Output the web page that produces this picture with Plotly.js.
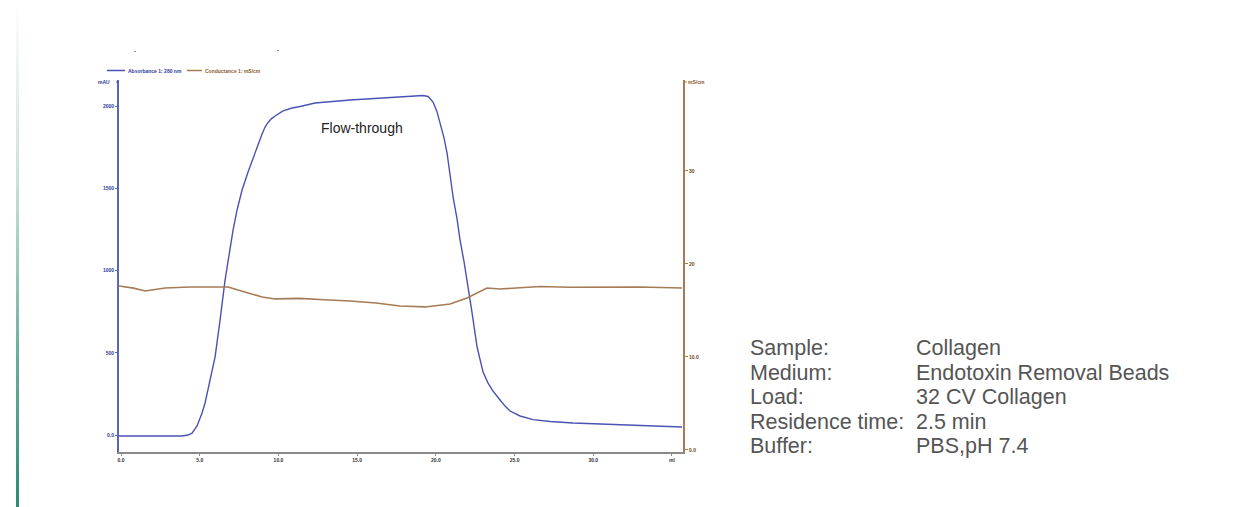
<!DOCTYPE html>
<html>
<head>
<meta charset="utf-8">
<script src="https://cdn.plot.ly/plotly-3.0.1.min.js"></script>
<style>
  html, body { margin:0; padding:0; background:#fff; }
  #chart { width:1254px; height:507px; position:relative; }
  #accent { position:absolute; left:16px; top:0; width:3px; height:507px;
    background: linear-gradient(to bottom, rgba(46,139,114,0) 0%, rgba(46,139,114,0.25) 35%, rgba(46,139,114,0.7) 70%, rgba(46,139,114,1) 100%); z-index:5; }
</style>
</head>
<body>
<div id="chart"><div id="accent"></div></div>
<script>
// UV absorbance (mAU) vs volume
const uvVolume = [-0.13, 1.0, 2.5, 3.875, 4.257, 4.511, 4.828, 5.146, 5.337, 5.527, 5.781, 5.972, 6.29, 6.607, 6.861, 7.116, 7.37, 7.687, 8.069, 8.513, 8.958, 9.15, 9.339, 9.55, 9.784, 10.292, 10.864, 11.372, 12.325, 14.549, 16.455, 17.725, 18.678, 19.187, 19.504, 19.822, 20.076, 20.267, 20.521, 20.712, 20.902, 21.093, 21.347, 21.537, 21.792, 21.982, 22.3, 22.618, 22.808, 22.999, 23.316, 23.634, 24.079, 24.396, 24.714, 25.349, 26.175, 27.255, 28.717, 31.893, 35.642];
const uvSignal = [-6, -5, -6, -6, 0, 12, 55, 134, 195, 274, 383, 474, 699, 942, 1094, 1246, 1368, 1489, 1599, 1720, 1830, 1872, 1900, 1922, 1939, 1970, 1988, 1997, 2018, 2036, 2046, 2055, 2061, 2064, 2058, 2024, 1964, 1897, 1805, 1714, 1581, 1447, 1313, 1185, 1052, 942, 742, 535, 450, 383, 316, 267, 213, 176, 146, 116, 94, 82, 73, 61, 49];

// Conductivity (mS/cm) vs volume
const condVolume = [-0.13, 0.8, 1.52, 2.8, 4.38, 5.97, 6.8, 8.07, 8.96, 9.78, 11.37, 12.9, 14.55, 16.2, 17.72, 19.31, 20.9, 21.98, 22.62, 23.0, 23.25, 24.08, 25.3, 26.62, 28.5, 30.43, 32.97, 35.64];
const condSignal = [17.63, 17.4, 17.10, 17.42, 17.53, 17.53, 17.53, 16.88, 16.45, 16.24, 16.3, 16.15, 16.02, 15.8, 15.48, 15.38, 15.70, 16.34, 16.88, 17.2, 17.42, 17.31, 17.45, 17.58, 17.5, 17.53, 17.53, 17.42];

const xTickVals = [0, 5, 10, 15, 20, 25, 30, 35];
const xTickText = ["0.0", "5.0", "10.0", "15.0", "20.0", "25.0", "30.0", "ml"];
const uvTickVals = [0, 500, 1000, 1500, 2000];
const uvTickText = ["0.0", "500", "1000", "1500", "2000"];
const condTickVals = [0, 10, 20, 30];
const condTickText = ["0.0", "10.0", "20", "30"];

const infoLabels = ["Sample:", "Medium:", "Load:", "Residence time:", "Buffer:"];
const infoValues = ["Collagen", "Endotoxin Removal Beads", "32 CV Collagen", "2.5 min", "PBS,pH 7.4"];

const blue = "#4a53b3";
const brown = "#a67b55";

const plotL = 119, plotR = 683, plotT = 80, plotB = 452;
const px2x = p => (p - plotL) / (plotR - plotL);
const py2y = p => (plotB - p) / (plotB - plotT);

const traces = [
  { x: uvVolume, y: uvSignal, type: "scatter", mode: "lines",
    line: { color: blue, width: 1.4 }, yaxis: "y", hoverinfo: "skip" },
  { x: condVolume, y: condSignal, type: "scatter", mode: "lines",
    line: { color: brown, width: 1.6 }, yaxis: "y2", hoverinfo: "skip" }
];

const annotations = [];
// line spacing = 1.3 * base size (18.85 -> 24.5px); glyphs drawn at 21.5px
const infoFont = { family: "Liberation Sans, Arial, sans-serif", size: 18.85, color: "#555" };
const wrapLines = arr => arr.map(t => '<span style="font-size:21.5px">' + t + '</span>').join('<br>');
annotations.push({ xref: "paper", yref: "paper", x: px2x(749), y: py2y(397), xanchor: "left", yanchor: "middle",
  align: "left", borderpad: 0, text: wrapLines(infoLabels), showarrow: false, font: infoFont });
annotations.push({ xref: "paper", yref: "paper", x: px2x(915), y: py2y(397), xanchor: "left", yanchor: "middle",
  align: "left", borderpad: 0, text: wrapLines(infoValues), showarrow: false, font: infoFont });

annotations.push({ xref: "paper", yref: "paper", x: px2x(362), y: py2y(128), xanchor: "center", yanchor: "middle",
  text: "Flow-through", showarrow: false, font: { family: "Liberation Sans, Arial, sans-serif", size: 14, color: "#222" } });
// legend texts
annotations.push({ xref: "paper", yref: "paper", x: px2x(126), y: py2y(71), xanchor: "left", yanchor: "middle",
  text: "Absorbance 1: 280 nm", showarrow: false, font: { family: "Liberation Sans, Arial", size: 5, color: "#2e3a9a", weight: "bold" } });
annotations.push({ xref: "paper", yref: "paper", x: px2x(203), y: py2y(71), xanchor: "left", yanchor: "middle",
  text: "Conductance 1: mS/cm", showarrow: false, font: { family: "Liberation Sans, Arial", size: 5, color: "#8a5a2e", weight: "bold" } });
// axis unit labels
annotations.push({ xref: "paper", yref: "paper", x: px2x(112), y: py2y(82), xanchor: "right", yanchor: "middle",
  text: "mAU", showarrow: false, font: { family: "Liberation Sans, Arial", size: 5, color: "#2e3a9a", weight: "bold" } });
annotations.push({ xref: "paper", yref: "paper", x: px2x(686), y: py2y(82), xanchor: "left", yanchor: "middle",
  text: "mS/cm", showarrow: false, font: { family: "Liberation Sans, Arial", size: 5, color: "#8a5a2e", weight: "bold" } });
// stray marks at top
annotations.push({ xref: "paper", yref: "paper", x: px2x(135), y: py2y(51), xanchor: "center", yanchor: "middle",
  text: "-", showarrow: false, font: { family: "Liberation Sans, Arial", size: 6, color: "#333", weight: "bold" } });
annotations.push({ xref: "paper", yref: "paper", x: px2x(278), y: py2y(50), xanchor: "center", yanchor: "middle",
  text: "-", showarrow: false, font: { family: "Liberation Sans, Arial", size: 6, color: "#333", weight: "bold" } });

const shapes = [
  { type: "line", xref: "paper", yref: "paper", x0: px2x(107), x1: px2x(125), y0: py2y(70.5), y1: py2y(70.5), line: { color: blue, width: 1.5 } },
  { type: "line", xref: "paper", yref: "paper", x0: px2x(187), x1: px2x(202), y0: py2y(70.5), y1: py2y(70.5), line: { color: brown, width: 1.5 } },
  { type: "line", xref: "paper", yref: "paper", x0: 1, x1: px2x(687), y0: py2y(82), y1: py2y(82), line: { color: brown, width: 1 } },
  { type: "line", xref: "paper", yref: "paper", x0: px2x(116), x1: 0, y0: py2y(82), y1: py2y(82), line: { color: blue, width: 1 } }
];

const layout = {
  width: 1254, height: 507,
  margin: { l: plotL, r: 1254 - plotR, t: plotT, b: 507 - plotB, pad: 0 },
  paper_bgcolor: "rgba(0,0,0,0)", plot_bgcolor: "rgba(0,0,0,0)",
  showlegend: false,
  xaxis: { range: [-0.13, 35.7], showgrid: false, zeroline: false, showline: true, linecolor: "#8a8a8a", linewidth: 2,
    tickvals: xTickVals, ticktext: xTickText, ticks: "outside", ticklen: 2, tickcolor: "#8a8a8a",
    tickfont: { family: "Liberation Sans, Arial", size: 5, color: "#333", weight: "bold" } },
  yaxis: { range: [-103, 2158], showgrid: false, zeroline: false, showline: true, linecolor: "#5a63c0", linewidth: 2,
    tickvals: uvTickVals, ticktext: uvTickText, ticks: "outside", ticklen: 2, tickcolor: "#5a63c0",
    tickfont: { family: "Liberation Sans, Arial", size: 5, color: "#2e3a9a", weight: "bold" } },
  yaxis2: { overlaying: "y", side: "right", anchor: "x", range: [-0.22, 39.78], showgrid: false, zeroline: false,
    showline: true, linecolor: brown, linewidth: 2,
    tickvals: condTickVals, ticktext: condTickText, ticks: "outside", ticklen: 3, tickcolor: brown,
    tickfont: { family: "Liberation Sans, Arial", size: 5, color: "#6e4520", weight: "bold" } },
  annotations: annotations,
  shapes: shapes
};

Plotly.newPlot("chart", traces, layout, { displayModeBar: false, staticPlot: true });
</script>
</body>
</html>
